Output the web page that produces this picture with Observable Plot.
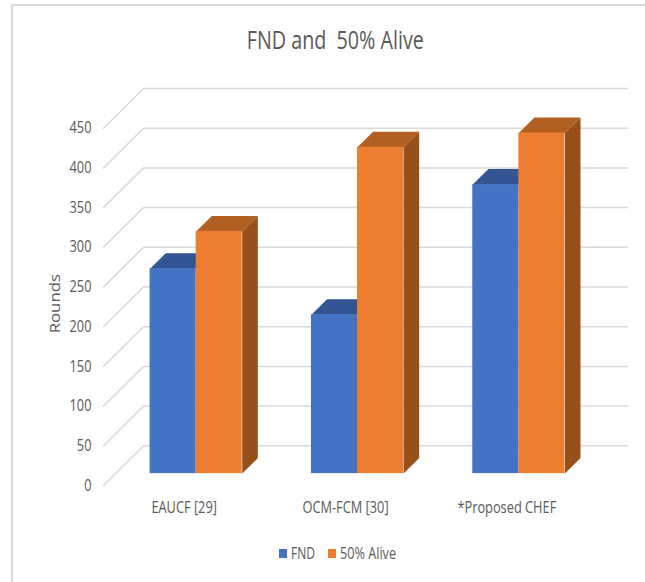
<!DOCTYPE html>
<html>
<head>
<meta charset="utf-8">
<script src="https://cdn.jsdelivr.net/npm/d3@7"></script>
<script src="https://cdn.jsdelivr.net/npm/@observablehq/plot@0.6"></script>
<style>
  html, body { margin: 0; padding: 0; background: #fff; }
  #chart { position: relative; width: 645px; height: 582px; overflow: hidden;
           font-family: "Open Sans", sans-serif; color: #595959; }
  #frame { position: absolute; left: 11px; top: 4px; width: 800px; height: 800px; border: 2px solid #d9d9d9; box-sizing: border-box; }
  #titleRow { position: absolute; left: 0; top: 22px; width: 671px; text-align: center; font-size: 25px; line-height: 34px; white-space: pre; }
  #title { display: inline-block; transform-origin: center; }
  #plot { position: absolute; left: 0; top: 0; }
  #legend { position: absolute; left: 279px; top: 544px; display: flex; align-items: center; font-size: 16px; line-height: 18px; white-space: pre; }
  #legend i { display: inline-block; width: 8px; height: 9px; margin-right: 4px; }
  #legend span { display: inline-block; transform-origin: left center; }
</style>
</head>
<body>
<div id="chart">
  <div id="frame"></div>
  <div id="plot"></div>
  <div id="titleRow"><span id="title"></span></div>
  <div id="legend"></div>
</div>
<script>
const titleText = "FND and  50% Alive";
const categories = ["EAUCF [29]", "OCM-FCM [30]", "*Proposed CHEF"];
const seriesNames = ["FND", "50% Alive"];
const fnd = [258, 200, 364];
const alive = [305, 411, 429];
const yTicks = [0, 50, 100, 150, 200, 250, 300, 350, 400, 450];
const frontColors = ["#4472C4", "#ED7D31"];
const topColors = ["#335593", "#B25F22"];
const sideColors = ["#2F5597", "#975019"];
const yLabel = "Rounds";

// Depth model of the 3-D chart, in scale units: one full depth step moves
// a point right by depthX categories and up by depthY rounds.
const depthX = 0.248, depthY = 50;
const barGap = 0.2145, barWidth = 0.2855;
const barFront = 0.3, barBack = 0.69;
const project = (x, v, d) => ({x: x + d * depthX, y: v + d * depthY});

const fronts = [], polys = [];
[fnd, alive].forEach((vals, s) => vals.forEach((v, i) => {
  const a = i + barGap + s * barWidth, b = a + barWidth;
  const p0 = project(a, 0, barFront), p1 = project(b, v, barFront);
  fronts.push({x1: p0.x, x2: p1.x, y1: p0.y, y2: p1.y, fill: frontColors[s]});
  const key = s + "-" + i;
  [[a, v, barFront], [b, v, barFront], [b, v, barBack], [a, v, barBack]].forEach(c =>
    polys.push({...project(...c), key: "t" + key, fill: topColors[s]}));
  [[b, 0, barFront], [b, v, barFront], [b, v, barBack], [b, 0, barBack]].forEach(c =>
    polys.push({...project(...c), key: "s" + key, fill: sideColors[s]}));
}));

const gridBack = yTicks.flatMap(t => [
  {...project(0, t, 0), t}, {...project(0, t, 1), t}, {...project(3, t, 1), t}
]);

const font = '"Open Sans", sans-serif';
const plot = Plot.plot({
  width: 645, height: 582,
  marginLeft: 103, marginRight: 58, marginTop: 88, marginBottom: 97,
  style: {background: "transparent", fontFamily: font, color: "#595959"},
  x: {domain: [0, 3]},
  y: {domain: [0, 500]},
  color: {type: "identity"},
  marks: [
    Plot.line(gridBack, {x: "x", y: "y", z: "t", stroke: "#d9d9d9", strokeWidth: 1.5, curve: "linear"}),
    Plot.line(polys, {x: "x", y: "y", z: "key", fill: d => d.fill, stroke: null, curve: "linear"}),
    Plot.rect(fronts, {x1: "x1", x2: "x2", y1: "y1", y2: "y2", fill: d => d.fill}),
    Plot.axisY({ticks: yTicks, tickSize: 0, tickPadding: 12, label: null, fontSize: 16, tickFormat: d => String(d), className: "ty"}),
    Plot.axisX({ticks: categories.map((c, i) => i + 0.5), tickFormat: (d, i) => categories[i], tickSize: 0, tickPadding: 16, label: null, fontSize: 16, className: "tx"}),
    Plot.text([yLabel], {x: () => -0.3, y: () => 229, text: d => d, rotate: -90, fontSize: 15, fill: "#595959", className: "tl"})
  ]
});
document.getElementById("plot").append(plot);

// The reference's type is condensed: fit each text to its measured width.
function squeezeSvg(sel, factor) {
  plot.querySelectorAll(sel + " text").forEach(t => {
    t.setAttribute("lengthAdjust", "spacingAndGlyphs");
    t.setAttribute("textLength", t.getComputedTextLength() * factor);
  });
}
squeezeSvg(".ty", 0.8);
squeezeSvg(".tx", 0.8);
squeezeSvg(".tl", 1.12);

function squeezeHtml(el, target) {
  const w = el.getBoundingClientRect().width;
  el.style.transform = `scaleX(${target / w})`;
}
const title = document.getElementById("title");
title.textContent = titleText;
squeezeHtml(title, 177);

const legend = document.getElementById("legend");
const legendWidths = [24, 56], legendGaps = [13, 0];
seriesNames.forEach((n, i) => {
  const sw = document.createElement("i"); sw.style.background = frontColors[i];
  const sp = document.createElement("span"); sp.textContent = n;
  legend.append(sw, sp);
  squeezeHtml(sp, legendWidths[i]);
  sp.style.width = (legendWidths[i] + legendGaps[i]) + "px";
});
</script>
</body>
</html>
